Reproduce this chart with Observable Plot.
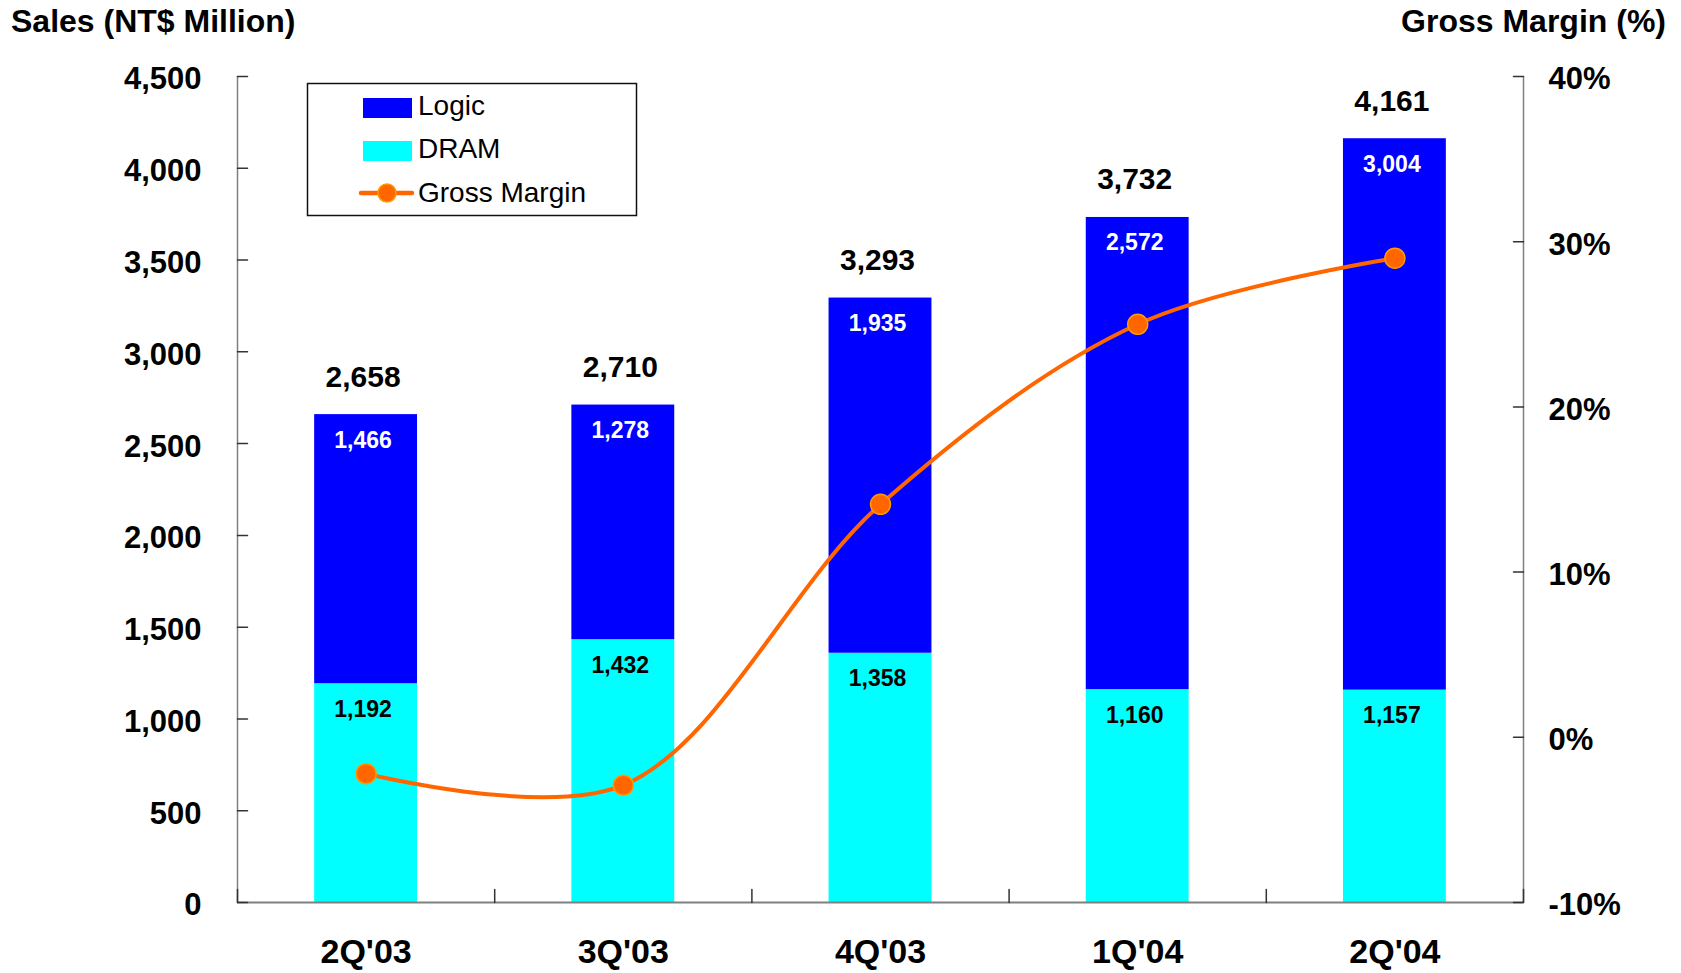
<!DOCTYPE html>
<html>
<head>
<meta charset="utf-8">
<script src="https://cdn.jsdelivr.net/npm/d3@7"></script>
<script src="https://cdn.jsdelivr.net/npm/@observablehq/plot@0.6"></script>
<style>
  html, body { margin: 0; padding: 0; background: #fff; }
  #wrap { position: relative; width: 1681px; height: 973px; font-family: "Liberation Sans", Arial, sans-serif; }
  #wrap svg.overlay { position: absolute; left: 0; top: 0; pointer-events: none; }
</style>
</head>
<body>
<div id="wrap"></div>
<script>
// ---- data ----
const quarters = ["2Q'03", "3Q'03", "4Q'03", "1Q'04", "2Q'04"];
const logic = [1466, 1278, 1935, 2572, 3004];
const dram = [1192, 1432, 1358, 1160, 1157];
const totals = [2658, 2710, 3293, 3732, 4161];
const grossMargin = [-2.2, -2.9, 14.1, 25.0, 29.0];
const salesTicks = [0, 500, 1000, 1500, 2000, 2500, 3000, 3500, 4000, 4500];
const gmTicks = [-10, 0, 10, 20, 30, 40];

// map gross margin (%) onto the sales axis: -10% -> 0, 40% -> 4500
const gmToSales = g => (g + 10) / 50 * 4500;
const salesToGm = v => v / 4500 * 50 - 10;

const rows = quarters.map((q, i) => ({
  i, q, logic: logic[i], dram: dram[i], total: totals[i], gm: grossMargin[i]
}));

const font = "Liberation Sans, Arial, sans-serif";
const fmt = d3.format(",");

// plain line shape for tick vectors (no arrow head)
const stick = { draw(context, l) { context.moveTo(0, 0); context.lineTo(0, -l); } };

const W = 1681, H = 973;
const plot = Plot.plot({
  width: W,
  height: H,
  marginLeft: 237,
  marginRight: 158,
  marginTop: 76,
  marginBottom: 71,
  style: { fontFamily: font, background: "#fff" },
  x: { type: "linear", domain: [-0.5, quarters.length - 0.5], axis: null },
  y: { domain: [0, 4500], axis: null },
  marks: [
    // DRAM (bottom)
    Plot.rectY(rows, { x1: d => d.i - 0.2, x2: d => d.i + 0.2, y1: 0, y2: d => d.dram, fill: "#00FFFF" }),
    // Logic (top)
    Plot.rectY(rows, { x1: d => d.i - 0.2, x2: d => d.i + 0.2, y1: d => d.dram, y2: d => d.dram + d.logic, fill: "#0000FF" }),
    // axis lines
    Plot.ruleX([-0.5], { stroke: "#808080", strokeWidth: 1.5 }),
    Plot.ruleX([quarters.length - 0.5], { stroke: "#808080", strokeWidth: 1.5 }),
    Plot.ruleY([0], { stroke: "#808080", strokeWidth: 2 }),
    // left ticks (inward)
    Plot.vector(salesTicks, { y: d => d, frameAnchor: "left", rotate: 90, length: 10, anchor: "start", shape: stick, stroke: "#333", strokeWidth: 1.5 }),
    // right ticks (inward)
    Plot.vector(gmTicks, { y: d => gmToSales(d), frameAnchor: "right", rotate: -90, length: 10, anchor: "start", shape: stick, stroke: "#333", strokeWidth: 1.5 }),
    // category boundary ticks (upward)
    Plot.vector(d3.range(quarters.length + 1), { x: d => d - 0.5, frameAnchor: "bottom", rotate: 0, length: 13, anchor: "start", shape: stick, stroke: "#333", strokeWidth: 1.5 }),
    // axes labels
    Plot.axisY({ anchor: "left", ticks: salesTicks, tickSize: 0, tickPadding: 36, dy: 3, tickFormat: fmt, label: null,
      fontSize: 31, fontWeight: "bold", fill: "#000" }),
    Plot.axisY({ anchor: "right", ticks: gmTicks.map(gmToSales), tickSize: 0, tickPadding: 25, dy: 3,
      tickFormat: v => Math.round(salesToGm(v)) + "%", label: null, fontSize: 31, fontWeight: "bold", fill: "#000" }),
    Plot.text(rows, { x: "i", text: "q", frameAnchor: "bottom", dy: 60, lineAnchor: "bottom",
      fontSize: 34, fontWeight: "bold", fill: "#000" }),
    // value labels
    Plot.text(rows, { x: "i", y: "total", text: d => fmt(d.total), dx: -3, dy: -28, lineAnchor: "bottom",
      fontSize: 30, fontWeight: "bold", fill: "#000" }),
    Plot.text(rows, { x: "i", y: "total", text: d => fmt(d.logic), dx: -3, dy: 33, lineAnchor: "bottom",
      fontSize: 23, fontWeight: "bold", fill: "#fff" }),
    Plot.text(rows, { x: "i", y: "dram", text: d => fmt(d.dram), dx: -3, dy: 33, lineAnchor: "bottom",
      fontSize: 23, fontWeight: "bold", fill: "#000" }),
    // gross margin line
    Plot.line(rows, { x: "i", y: d => gmToSales(d.gm), stroke: "#FF6600", strokeWidth: 4, curve: "catmull-rom" }),
    Plot.dot(rows, { x: "i", y: d => gmToSales(d.gm), r: 10, fill: "#FF6600", stroke: "#FF9900", strokeWidth: 1.5 })
  ]
});

const wrap = document.getElementById("wrap");
wrap.appendChild(plot);

// overlay: axis titles + legend
const ov = d3.select(wrap).append("svg").attr("class", "overlay")
  .attr("width", W).attr("height", H).attr("font-family", font);

ov.append("text").attr("x", 11).attr("y", 32).attr("font-size", 32).attr("font-weight", "bold")
  .text("Sales (NT$ Million)");
ov.append("text").attr("x", 1666).attr("y", 32).attr("text-anchor", "end").attr("font-size", 32).attr("font-weight", "bold")
  .text("Gross Margin (%)");

const lg = ov.append("g");
lg.append("rect").attr("x", 307.5).attr("y", 83.5).attr("width", 329).attr("height", 132)
  .attr("fill", "#fff").attr("stroke", "#111").attr("stroke-width", 1.5);
lg.append("rect").attr("x", 363).attr("y", 98).attr("width", 49).attr("height", 20).attr("fill", "#0000FF");
lg.append("rect").attr("x", 363).attr("y", 141).attr("width", 49).attr("height", 20).attr("fill", "#00FFFF");
lg.append("line").attr("x1", 361).attr("x2", 412).attr("y1", 193).attr("y2", 193)
  .attr("stroke", "#FF6600").attr("stroke-width", 4.5).attr("stroke-linecap", "round");
lg.append("circle").attr("cx", 387).attr("cy", 193).attr("r", 9).attr("fill", "#FF6600").attr("stroke", "#FF9900").attr("stroke-width", 1.5);
[["Logic", 115], ["DRAM", 158], ["Gross Margin", 201.5]].forEach(([t, y]) => {
  lg.append("text").attr("x", 418).attr("y", y).attr("font-size", 28).text(t);
});
</script>
</body>
</html>
